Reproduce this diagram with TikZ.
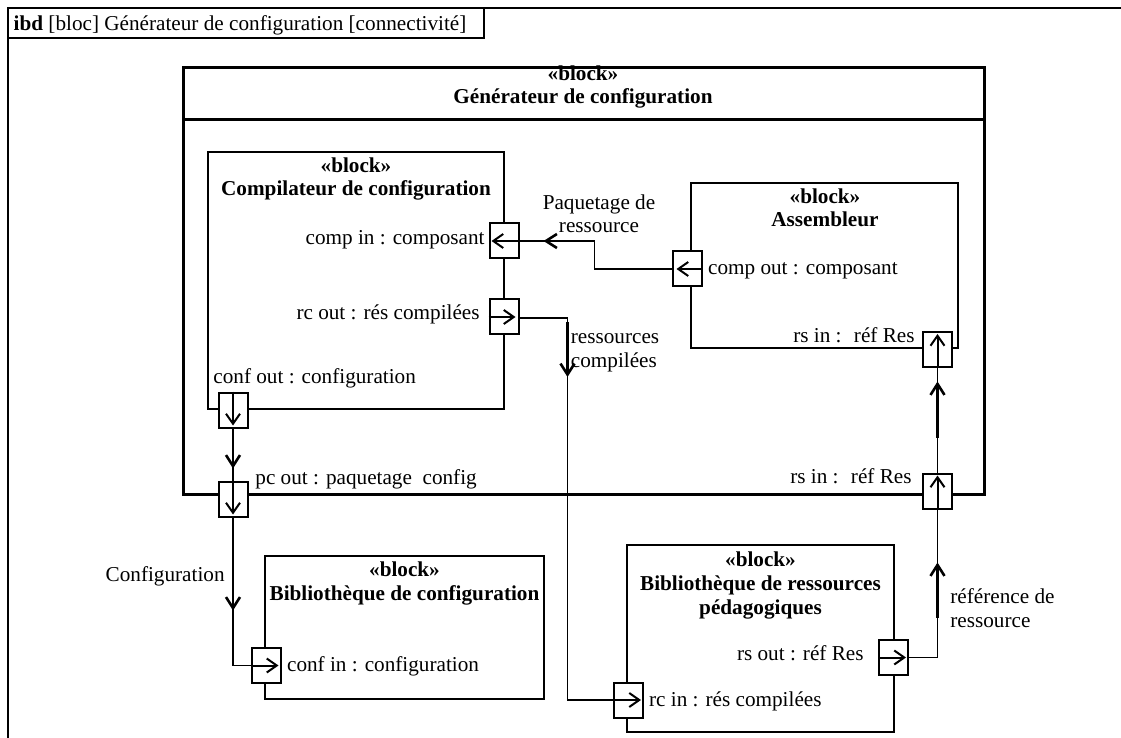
\documentclass[tikz,border=0pt]{standalone}
\usepackage{fontspec}
\setmainfont{Liberation Serif}
\usetikzlibrary{arrows.meta,calc,fit}
\begin{document}
\begin{tikzpicture}[x=0.5pt,y=-0.5pt,
  txt/.style={inner sep=0pt, font=\fontsize{10.6pt}{11.8pt}\selectfont},
  ttl/.style={inner sep=0pt, font=\fontsize{10.6pt}{11.8pt}\selectfont\bfseries, align=center, anchor=base},
  blk/.style={draw, line width=1pt, inner sep=0pt},
  port/.style={draw, line width=1pt, fill=white, minimum width=14.5pt, minimum height=17.5pt, inner sep=0pt},
  parr/.style={line width=1pt, -{Straight Barb[length=5pt,width=7pt]}},
  conn/.style={line width=0.8pt},
  marr/.style={line width=1.3pt, -{Straight Barb[length=5.5pt,width=7pt]}},
  frm/.style={line width=1pt}
]
\useasboundingbox (0,0) rectangle (1121,738);
% frame
\coordinate (fbl) at (8,738);
\coordinate (ftl) at (8,8);
\coordinate (ftr) at (1121,8);
\draw[frm] (fbl) -- (ftl) -- (ftr);
\coordinate (tabb) at (8,38);
\coordinate (tabr) at (484,8);
\draw[frm] (tabb) -| (tabr);
\node[txt, anchor=base west] (tabtxt) at (13.3,31) {\textbf{ibd} [bloc] Générateur de configuration [connectivité]};

% blocks
\node[blk, line width=1.5pt, fit={(183,68) (984,494)}] (gen) {};
\coordinate (gdl) at (183,120);
\coordinate (gdr) at (984,120);
\draw[line width=1.5pt] (gdl) -- (gdr);
\node[ttl] (gent) at (583,104) {«block»\\Générateur de configuration};

\node[blk, fit={(207.7,152.3) (504.3,409.3)}] (comp) {};
\node[ttl] (compt) at (356,196) {«block»\\Compilateur de configuration};

\node[blk, fit={(691,183.3) (958.3,348.3)}] (asm) {};
\node[ttl] (asmt) at (825,227) {«block»\\Assembleur};

\node[blk, fit={(265,556) (544,699)}] (bconf) {};
\node[ttl] (bconft) at (404.5,600) {«block»\\Bibliothèque de configuration};

\node[blk, fit={(627.3,545) (894,731.7)}] (bres) {};
\node[ttl] (brest) at (760.5,614) {«block»\\Bibliothèque de ressources\\pédagogiques};

% ports
\node[port] (compIn) at (504,241) {};
\node[port] (rcOut) at (504,317) {};
\node[port] (confOut) at (233,410) {};
\node[port] (compOut) at (687,269) {};
\node[port] (rsInA) at (937.5,349.5) {};
\node[port] (pcOut) at (233,499) {};
\node[port] (rsInG) at (937.5,491) {};
\node[port] (confIn) at (266,665.5) {};
\node[port] (rcIn) at (628.5,700) {};
\node[port] (rsOut) at (893.5,657.5) {};

% port arrows
\draw[parr] (compIn.east) -- ($(compIn.west)+(3,0)$);
\draw[parr] (rcOut.west) -- ($(rcOut.east)+(-4,0)$);
\draw[parr] (confOut.north) -- ($(confOut.south)+(0,-3)$);
\draw[parr] (compOut.east) -- ($(compOut.west)+(5,0)$);
\draw[parr] (rsInA.south) -- ($(rsInA.north)+(0,3)$);
\draw[parr] (pcOut.north) -- ($(pcOut.south)+(0,-3)$);
\draw[parr] (rsInG.south) -- ($(rsInG.north)+(0,3)$);
\draw[parr] (confIn.west) -- ($(confIn.east)+(-3,0)$);
\draw[parr] (rcIn.west) -- ($(rcIn.east)+(-3,0)$);
\draw[parr] (rsOut.west) -- ($(rsOut.east)+(-3,0)$);

% port labels
\node[txt, anchor=base east] (compInL) at (485,245) {comp in : composant};
\node[txt, anchor=base east] (rcOutL) at (480,320) {rc out : rés compilées};
\node[txt, anchor=base west] (confOutL) at (213,384) {conf out : configuration};
\node[txt, anchor=base west] (compOutL) at (707.7,275) {comp out : composant};
\node[txt, anchor=base east] (rsInAL) at (915,343) {rs in :~ réf Res};
\node[txt, anchor=base west] (pcOutL) at (255,484) {pc out : paquetage~ config};
\node[txt, anchor=base east] (rsInGL) at (912,483.3) {rs in :~ réf Res};
\node[txt, anchor=base west] (confInL) at (286.7,671.7) {conf in : configuration};
\node[txt, anchor=base east] (rsOutL) at (864,660.7) {rs out : réf Res};
\node[txt, anchor=base west] (rcInL) at (648.7,706.7) {rc in : rés compilées};

% connectors
\draw[conn] (compOut.west) -- ++(-77,0) |- (compIn.east);
\draw[marr] ($(compIn.east)+(72,0)$) -- ($(compIn.east)+(24,0)$);
\node[txt, align=center, anchor=base] (paqL) at (599,232.7) {Paquetage de\\ressource};

\draw[conn] ($(rcOut.east)+(0,1)$) -- ++(48,0) |- (rcIn.west);
\draw[marr] ($(rcOut.east)+(48,5)$) -- ($(rcOut.east)+(48,60)$);
\node[txt, align=left, anchor=base west] (rcL) at (570.5,367) {ressources\\compilées};

\draw[conn] (confOut.south) -- (pcOut.north);
\draw[marr] ($(confOut.south)+(0,10)$) -- ($(confOut.south)+(0,40)$);

\draw[conn] (pcOut.south) |- (confIn.west);
\draw[marr] ($(pcOut.south)+(0,38)$) -- ($(pcOut.south)+(0,93)$);
\node[txt, anchor=base east] (confL) at (225,581.7) {Configuration};

\draw[conn] (rsOut.east) -| (rsInG.south);
\draw[marr] ($(rsInG.south)+(0,108)$) -- ($(rsInG.south)+(0,53)$);
\node[txt, align=left, anchor=base west] (refL) at (950,627.3) {référence de\\ressource};

\draw[conn] (rsInG.north) -- (rsInA.south);
\draw[marr] ($(rsInG.north)+(0,-35)$) -- ($(rsInG.north)+(0,-91)$);
\end{tikzpicture}
\end{document}
